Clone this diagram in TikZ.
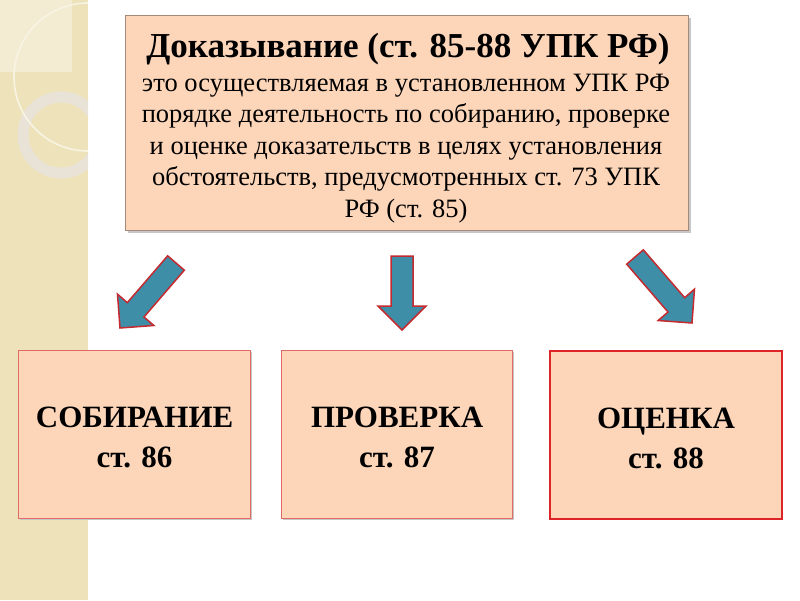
\documentclass[tikz,border=0pt]{standalone}
\usepackage{fontspec}
\setmainfont{Liberation Serif}[Ligatures=TeX]
\newfontfamily\tnr{Liberation Serif}
\usetikzlibrary{calc}
\definecolor{strip}{HTML}{EEE2BA}
\definecolor{stripl}{HTML}{F4ECD2}
\definecolor{ringc}{HTML}{E8E3D6}
\definecolor{peach}{HTML}{FDD6BA}
\definecolor{topedge}{HTML}{A88878}
\definecolor{boxedge}{HTML}{E06A66}
\definecolor{boxedgeB}{HTML}{DD2426}
\definecolor{arrfill}{HTML}{3D8EA6}
\definecolor{arredge}{HTML}{C42A30}
\tikzset{
  topbox/.style={fill=peach, draw=topedge, line width=1.2pt},
  lowbox/.style={fill=peach, draw=boxedge, line width=1.2pt, minimum width=232pt, minimum height=168pt},
  lowtext/.style={align=center, inner sep=0pt, font=\tnr\fontsize{31}{40}\selectfont\bfseries},
  blockarr/.style={fill=arrfill, draw=arredge, line width=1.5pt, line join=miter},
  bodyline/.style={anchor=base, font=\tnr\fontsize{26.5}{30}\selectfont, inner sep=0pt},
  shadowbox/.style={fill=black!22, draw=none}
}
\newcommand\blockarrow[2]{%
  \coordinate (hb) at ($(#2)!24pt!(#1)$);
  \filldraw[blockarr] (#2) -- ($(hb)!24pt!90:(#2)$) -- ($(hb)!11pt!90:(#2)$)
     -- ($(#1)!11pt!90:(#2)$) -- ($(#1)!11pt!-90:(#2)$) -- ($(hb)!11pt!-90:(#2)$)
     -- ($(hb)!24pt!-90:(#2)$) -- cycle;}
\begin{document}
\begin{tikzpicture}[x=1pt,y=-1pt]
\useasboundingbox (0,0) rectangle (800,600);
\fill[white] (0,0) rectangle (800,600);
% left decorative strip
\fill[strip] (0,0) rectangle (88,600);
\begin{scope}
  \clip (0,0) rectangle (88,600);
  \fill[stripl] (0,0) rectangle (72,72);
  \draw[ringc, line width=11pt] (61,135) circle (38);
  \draw[stripl!60!white, line width=1.6pt] (88,77) circle (74);
\end{scope}
% top box
\fill[shadowbox] (128,18) rectangle (691,233);
\node[topbox, minimum width=563pt, minimum height=215pt, anchor=north west] (top) at (125,15) {};
\node[anchor=base, inner sep=0pt, font=\tnr\fontsize{35}{38}\selectfont\bfseries] (title) at (408,57) {Доказывание (ст. 85-88 УПК РФ)};
\node[bodyline] (l1) at (406,91) {это осуществляемая в установленном УПК РФ};
\node[bodyline] (l2) at (406,122.5) {порядке деятельность по собиранию, проверке};
\node[bodyline] (l3) at (406,154) {и оценке доказательств в целях установления};
\node[bodyline] (l4) at (406,185.5) {обстоятельств, предусмотренных ст. 73 УПК};
\node[bodyline] (l5) at (406,217) {РФ (ст. 85)};
% lower boxes
\fill[shadowbox] (20,352) rectangle (252,520);
\fill[shadowbox] (283,352) rectangle (514,520);
\fill[shadowbox] (551,352) rectangle (783,520);
\node[lowbox, anchor=north west] (b1) at (18,350) {};
\node[lowbox, anchor=north west, minimum width=231pt] (b2) at (281,350) {};
\node[lowbox, anchor=north west, draw=boxedgeB, line width=2pt] (b3) at (549,350) {};
\node[lowtext] (b1t) at ($(b1.center)+(0,3)$) {СОБИРАНИЕ\\ст. 86};
\node[lowtext] (b2t) at ($(b2.center)+(0,3)$) {ПРОВЕРКА\\ст. 87};
\node[lowtext] (b3t) at ($(b3.center)+(0,3)$) {ОЦЕНКА\\ст. 88};
% block arrows
\coordinate (s1) at (176,263); \coordinate (t1) at (120,328);
\coordinate (s2) at (402,256); \coordinate (t2) at (402,330);
\coordinate (s3) at (635,257); \coordinate (t3) at (692,323);
\blockarrow{s1}{t1}
\blockarrow{s2}{t2}
\blockarrow{s3}{t3}
\end{tikzpicture}
\end{document}
